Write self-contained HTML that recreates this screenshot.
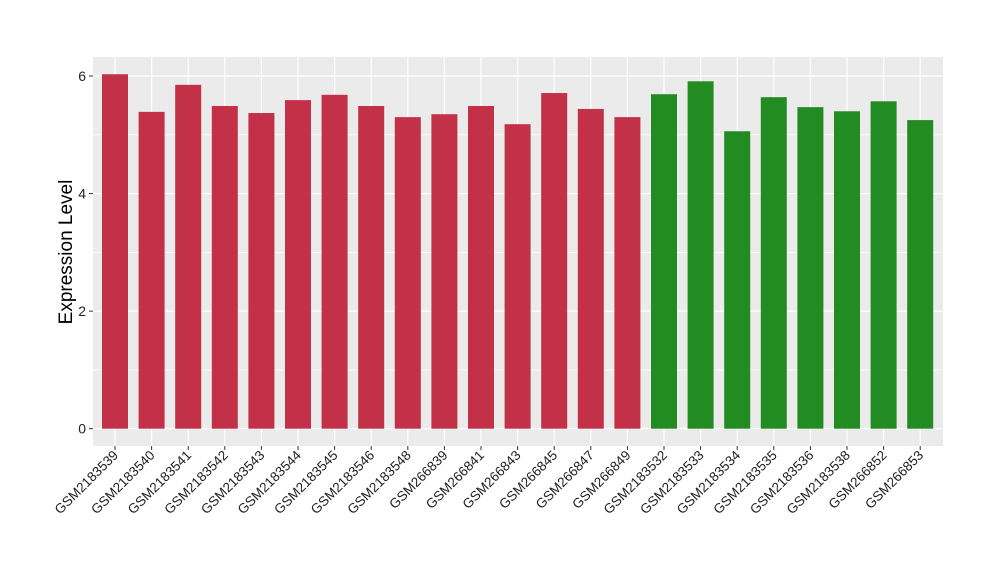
<!DOCTYPE html>
<html><head><meta charset="utf-8"><style>body{margin:0;background:#fff}svg{display:block;font-family:"Liberation Sans",sans-serif}</style></head>
<body>
<svg id="chart" width="1000" height="580" xmlns="http://www.w3.org/2000/svg">
<rect x="93" y="57" width="850" height="389" fill="#ebebeb"/>
<g id="grid"></g><g id="bars"></g><g id="axes"></g>
<text x="72" y="252" transform="rotate(-90 72 252)" text-anchor="middle" font-size="19" fill="#000">Expression Level</text>
</svg>
<script>
const categories=["GSM2183539","GSM2183540","GSM2183541","GSM2183542","GSM2183543","GSM2183544","GSM2183545","GSM2183546","GSM2183548","GSM266839","GSM266841","GSM266843","GSM266845","GSM266847","GSM266849","GSM2183532","GSM2183533","GSM2183534","GSM2183535","GSM2183536","GSM2183538","GSM266852","GSM266853"];
const values=[6.03,5.39,5.85,5.49,5.37,5.59,5.68,5.49,5.30,5.35,5.49,5.18,5.71,5.44,5.30,5.69,5.91,5.06,5.64,5.47,5.40,5.57,5.25];
const groups=[0,0,0,0,0,0,0,0,0,0,0,0,0,0,0,1,1,1,1,1,1,1,1];
const groupColors=["#c33149","#228b22"];
const yTicks=[0,2,4,6];
const NS="http://www.w3.org/2000/svg";
const y=v=>428.7-v*(428.7-76)/6;
const x=i=>115+i*36.6;
const bw=26;
function mk(t,a,p){const e=document.createElementNS(NS,t);for(const k in a)e.setAttribute(k,a[k]);p.appendChild(e);return e;}
const grid=document.getElementById('grid'),bars=document.getElementById('bars'),axes=document.getElementById('axes');
for(let k=0;k<yTicks.length-1;k++){const g=mk('line',{x1:93,x2:943,y1:y((yTicks[k]+yTicks[k+1])/2),y2:y((yTicks[k]+yTicks[k+1])/2),stroke:'#fff','stroke-width':0.6},grid);

}
yTicks.forEach(t=>{const g=mk('line',{x1:93,x2:943,y1:y(t),y2:y(t),stroke:'#fff','stroke-width':1.2},grid);


const tk=mk('line',{x1:89,x2:93,y1:y(t),y2:y(t),stroke:'#333'},axes);


const lb=mk('text',{x:86,y:y(t)+5,'text-anchor':'end','font-size':14,fill:'#222'},axes);lb.textContent=t;

});
categories.forEach((c,i)=>{const g=mk('line',{x1:x(i),x2:x(i),y1:57,y2:446,stroke:'#fff','stroke-width':1.2},grid);


const r=mk('rect',{x:x(i)-bw/2,y:y(values[i]),width:bw,height:y(0)-y(values[i]),fill:groupColors[groups[i]]},bars);


const tk=mk('line',{x1:x(i),x2:x(i),y1:446,y2:450,stroke:'#333'},axes);


const lb=mk('text',{x:x(i)+4,y:456,'text-anchor':'end','font-size':13.5,fill:'#222',transform:`rotate(-45 ${x(i)+4} 456)`},axes);lb.textContent=c;

});
</script>
</body></html>
